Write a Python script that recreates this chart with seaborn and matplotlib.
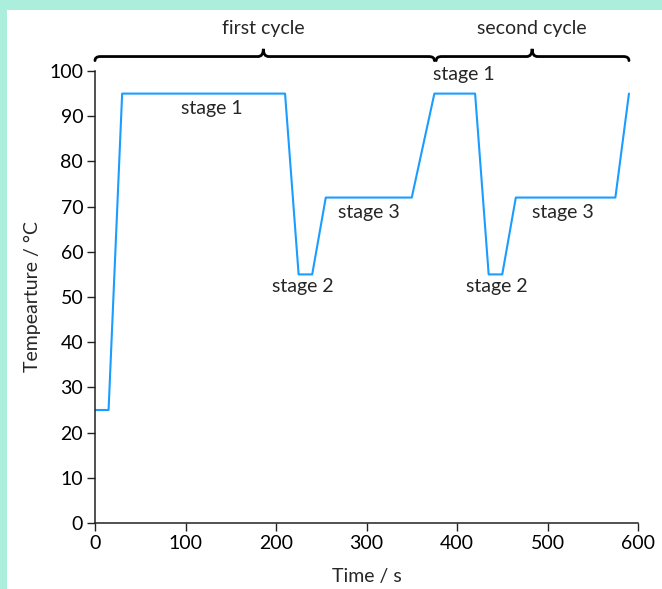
import numpy as np
import pandas as pd
import matplotlib
matplotlib.use('Agg')
import matplotlib.pyplot as plt
from matplotlib.path import Path
from matplotlib.patches import PathPatch, Rectangle
import seaborn as sns

# temperature profile
time_s = [0, 15, 30, 210, 225, 240, 255, 350, 375, 420, 435, 450, 465, 575, 590]
temp_c = [25, 25, 95, 95, 55, 55, 72, 72, 95, 95, 55, 55, 72, 72, 95]

stage_labels = ['stage 1', 'stage 2', 'stage 3', 'stage 1', 'stage 2', 'stage 3']
stage_x = [129, 230, 303, 407, 444, 517]
stage_y = [91.8, 52.3, 68.8, 99.3, 52.3, 68.7]

cycle_labels = ['first cycle', 'second cycle']
cycle_start = [0, 377]
cycle_end = [375, 590]
cycle_tip = [186, 483]

x_ticks = [0, 100, 200, 300, 400, 500, 600]
y_ticks = [0, 10, 20, 30, 40, 50, 60, 70, 80, 90, 100]

sns.set_theme(style='ticks')
plt.rcParams['font.family'] = ['Lato', 'DejaVu Sans']

mint = '#aaeedb'
line_col = '#1a9dff'
fs = 14

fig = plt.figure(figsize=(6.62, 5.89), dpi=100)
fig.patch.set_facecolor(mint)
fig.add_artist(Rectangle((7 / 662, 0), 1, (589 - 10) / 589, transform=fig.transFigure,
                         facecolor='white', edgecolor='none', zorder=-1))

ax = fig.add_axes([95 / 662, 66 / 589, 543 / 662, 452 / 589])
ax.set_facecolor('white')

df = pd.DataFrame({'t': time_s, 'T': temp_c})
sns.lineplot(data=df, x='t', y='T', ax=ax, color=line_col, linewidth=1.5,
             sort=False, estimator=None)

ax.set_xlim(0, 600)
ax.set_ylim(0, 100)
ax.set_xticks(x_ticks)
ax.set_yticks(y_ticks)
ax.tick_params(direction='out', length=5.5, width=1.0, colors='#222222',
               labelsize=fs, labelcolor='black', pad=3)
for side in ['top', 'right']:
    ax.spines[side].set_visible(False)
for side in ['left', 'bottom']:
    ax.spines[side].set_linewidth(1.1)
    ax.spines[side].set_color('#222222')

ax.set_xlabel('Time / s', fontsize=fs, labelpad=12)
ax.set_ylabel('Tempearture / °C', fontsize=fs, labelpad=6)

for lab, x, y in zip(stage_labels, stage_x, stage_y):
    ax.text(x, y, lab, ha='center', va='center', fontsize=fs, clip_on=False)

# curly braces above the plot
y0 = 103.2
r = 6
for lab, xa, xb, xm in zip(cycle_labels, cycle_start, cycle_end, cycle_tip):
    verts = [(xa, y0 - 0.9), (xa, y0), (xa + r, y0),
             (xm - r, y0), (xm, y0), (xm, y0 + 1.7),
             (xm, y0), (xm + r, y0),
             (xb - r, y0), (xb, y0), (xb, y0 - 0.9)]
    codes = [Path.MOVETO, Path.CURVE3, Path.CURVE3,
             Path.LINETO, Path.CURVE3, Path.CURVE3,
             Path.CURVE3, Path.CURVE3,
             Path.LINETO, Path.CURVE3, Path.CURVE3]
    ax.add_patch(PathPatch(Path(verts, codes), facecolor='none', edgecolor='black',
                           linewidth=2.0, clip_on=False, capstyle='round'))
    ax.text(xm, y0 + 6.3, lab, ha='center', va='center', fontsize=fs, clip_on=False)

fig.savefig('out.png', dpi=100, facecolor=fig.get_facecolor())
